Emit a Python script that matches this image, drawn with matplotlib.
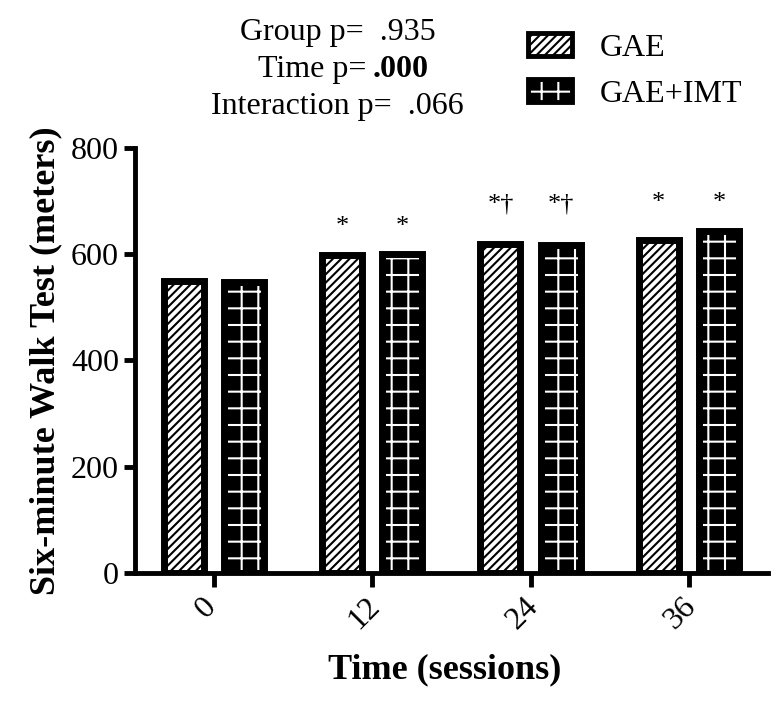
import numpy as np
import matplotlib
matplotlib.use('Agg')
import matplotlib.pyplot as plt
import matplotlib.transforms as mtransforms
from matplotlib.patches import Patch
from matplotlib.legend_handler import HandlerTuple

# data
sessions = ['0', '12', '24', '36']
gae = [549, 598, 620, 626]
gae_imt = [548, 600, 617, 643]
marks = ['', '*', '*\u2020', '*']
mark_y = [0, 652, 694, 696]

plt.rcParams['font.family'] = ['Liberation Serif', 'DejaVu Serif']
plt.rcParams['hatch.linewidth'] = 1.5

fig = plt.figure(figsize=(7.71, 7.07), dpi=100)
ax = fig.add_axes([0.175, 0.1895, 0.821, 0.6012])

x = np.arange(len(sessions))
w = 0.253
off = 0.19

# GAE: white with black diagonal lines
ax.bar(x - off, gae, w, facecolor='white', edgecolor='black', hatch='////', linewidth=0, zorder=2)
ax.bar(x - off, gae, w, fill=False, edgecolor='black', linewidth=5, zorder=3)
# GAE+IMT: black with white grid
ax.bar(x + off, gae_imt, w, facecolor='black', edgecolor='white', hatch='+', linewidth=0, zorder=2)
ax.bar(x + off, gae_imt, w, fill=False, edgecolor='black', linewidth=5, zorder=3)

for i in range(len(sessions)):
    if marks[i]:
        ax.text(x[i] - off, mark_y[i], marks[i], ha='center', va='center', fontsize=19)
        ax.text(x[i] + off, mark_y[i], marks[i], ha='center', va='center', fontsize=19)

ax.set_xlim(-0.5, 3.5)
ax.set_ylim(0, 800)
ax.set_yticks([0, 200, 400, 600, 800])
ax.set_xticks(x)
ax.tick_params(axis='y', labelsize=23, length=8)
ax.tick_params(axis='x', length=10)
ax.tick_params(width=3.5)
ax.set_xticklabels(sessions, rotation=45, fontsize=23)
# labels sit a little left of the ticks in the original
shift = mtransforms.ScaledTranslation(-8 / 100, 0, fig.dpi_scale_trans)
for lab in ax.get_xticklabels():
    lab.set_transform(lab.get_transform() + shift)
for s in ['top', 'right']:
    ax.spines[s].set_visible(False)
for s in ['left', 'bottom']:
    ax.spines[s].set_linewidth(3.5)

ax.set_ylabel('Six-minute Walk Test (meters)', fontsize=26, fontweight='bold', labelpad=6)
ax.set_xlabel('Time (sessions)', fontsize=26, fontweight='bold', labelpad=13, x=0.49)

# stats text
fig.text(0.438, 0.954, 'Group p=  .935', ha='center', va='center', fontsize=23)
fig.text(0.476, 0.901, 'Time p=', ha='right', va='center', fontsize=23)
fig.text(0.483, 0.901, '.000', ha='left', va='center', fontsize=23, fontweight='bold')
fig.text(0.438, 0.850, 'Interaction p=  .066', ha='center', va='center', fontsize=23)

h1 = (Patch(facecolor='white', edgecolor='black', hatch='////', linewidth=0),
      Patch(fill=False, edgecolor='black', linewidth=3.5))
h2 = (Patch(facecolor='black', edgecolor='white', hatch='+', linewidth=0),
      Patch(fill=False, edgecolor='black', linewidth=3.5))
fig.legend([h1, h2], ['GAE', 'GAE+IMT'], handler_map={tuple: HandlerTuple(ndivide=1)},
           loc='center left', bbox_to_anchor=(0.647, 0.900), frameon=False, fontsize=23,
           handlelength=1.4, handleheight=0.75, handletextpad=0.85, labelspacing=0.5)

fig.savefig('out.png', dpi=100)
